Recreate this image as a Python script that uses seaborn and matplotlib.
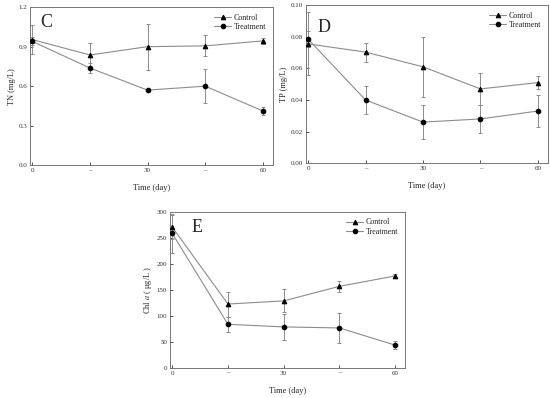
import numpy as np
import pandas as pd
import matplotlib
matplotlib.use('Agg')
import matplotlib.pyplot as plt
import seaborn as sns

# ── Data ────────────────────────────────────────────────
days = [0, 15, 30, 45, 60]
day_labels = ["0", "–", "30", "–", "60"]

tn_control = [0.954, 0.837, 0.900, 0.906, 0.944]
tn_control_err = [0.11, 0.09, 0.175, 0.08, 0.022]
tn_treat = [0.940, 0.738, 0.570, 0.600, 0.412]
tn_treat_err = [0.03, 0.035, 0.008, 0.13, 0.033]

tp_control = [0.0755, 0.0703, 0.0610, 0.0470, 0.0510]
tp_control_err = [0.020, 0.006, 0.019, 0.010, 0.004]
tp_treat = [0.0785, 0.0400, 0.0260, 0.0280, 0.0330]
tp_treat_err = [0.005, 0.009, 0.011, 0.009, 0.010]

chl_control = [271, 123, 129, 157, 177]
chl_control_err = [23, 24, 22, 10, 3]
chl_treat = [259, 84, 79, 77, 44]
chl_treat_err = [37, 14, 25, 29, 7]

sns.set_style("ticks")
plt.rcParams['font.family'] = ['Liberation Serif', 'DejaVu Serif']
plt.rcParams['mathtext.fontset'] = 'stix'

LINE_C = "#8c8c8c"
SPINE_C = "#777777"

fig = plt.figure(figsize=(5.5, 3.98), dpi=100)
ax_c = fig.add_axes([0.0545, 0.585, 0.4415, 0.397])
ax_d = fig.add_axes([0.556, 0.590, 0.440, 0.397])
ax_e = fig.add_axes([0.309, 0.0754, 0.427, 0.392])


def draw_panel(ax, ctrl, ctrl_err, trt, trt_err, ylim, yticks, yfmt, ylabel, letter, letter_xy):
    df = pd.DataFrame({
        "day": days * 2,
        "value": list(ctrl) + list(trt),
        "group": ["Control"] * len(days) + ["Treatment"] * len(days),
    })
    for grp, err in [("Control", ctrl_err), ("Treatment", trt_err)]:
        sub = df[df["group"] == grp]
        ax.errorbar(sub["day"], sub["value"], yerr=err, fmt="none",
                    ecolor=LINE_C, elinewidth=0.7, capsize=1.5, capthick=0.7, zorder=2)
    sns.lineplot(data=df, x="day", y="value", hue="group", style="group",
                 markers={"Control": "^", "Treatment": "o"}, dashes=False,
                 palette={"Control": LINE_C, "Treatment": LINE_C},
                 markersize=3.3, markerfacecolor="black", markeredgecolor="black",
                 linewidth=0.8, ax=ax, zorder=3)
    ax.set_xlim(-0.6, 62.6)
    ax.set_ylim(*ylim)
    ax.set_xticks(days)
    ax.set_xticklabels(day_labels)
    ax.set_yticks(yticks)
    ax.set_yticklabels([yfmt.format(v) for v in yticks])
    ax.tick_params(direction="in", length=2, width=0.6, labelsize=5, colors="#333333", pad=2)
    for s in ax.spines.values():
        s.set_color(SPINE_C)
        s.set_linewidth(0.7)
    ax.set_xlabel("Time (day)", fontsize=6, labelpad=8)
    ax.set_ylabel(ylabel, fontsize=6, labelpad=2)
    ax.text(letter_xy[0], letter_xy[1], letter, transform=ax.transAxes,
            fontsize=13, va="center", ha="center")
    leg = ax.legend(loc="upper right", frameon=False, fontsize=5.8, handlelength=2.2,
                    handletextpad=0.3, labelspacing=0.2, borderaxespad=0.4)
    for h in leg.legend_handles:
        h.set_markerfacecolor("black")
        h.set_markeredgecolor("black")
        h.set_markersize(3.3)


draw_panel(ax_c, tn_control, tn_control_err, tn_treat, tn_treat_err,
           (0, 1.2), [0.0, 0.3, 0.6, 0.9, 1.2], "{:.1f}", "TN (mg/L)", "C", (0.065, 0.9))
draw_panel(ax_d, tp_control, tp_control_err, tp_treat, tp_treat_err,
           (0, 0.10), [0.0, 0.02, 0.04, 0.06, 0.08, 0.10], "{:.2f}", "TP (mg/L)", "D", (0.075, 0.86))
draw_panel(ax_e, chl_control, chl_control_err, chl_treat, chl_treat_err,
           (0, 300), [0, 50, 100, 150, 200, 250, 300], "{:.0f}", r"Chl $a$ ( μg/L )", "E", (0.115, 0.9))

fig.savefig("out.png", dpi=100)
